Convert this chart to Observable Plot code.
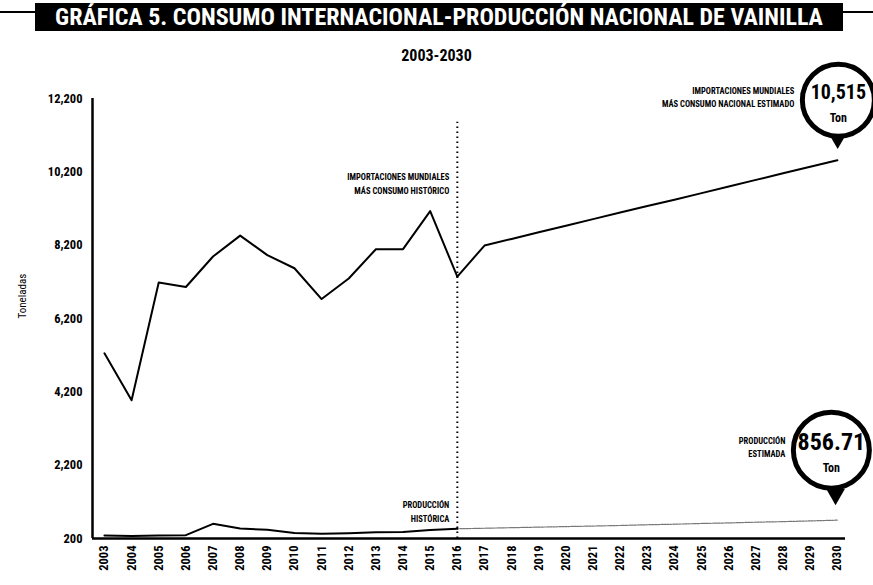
<!DOCTYPE html>
<html><head><meta charset="utf-8">
<script src="https://cdn.jsdelivr.net/npm/d3@7"></script>
<script src="https://cdn.jsdelivr.net/npm/@observablehq/plot@0.6"></script>
<style>
body{margin:0;background:#fff;width:873px;height:585px;overflow:hidden;position:relative;font-family:"Roboto Condensed","Liberation Sans Narrow","DejaVu Sans Condensed","Open Sans",sans-serif;}
#title{position:relative;height:40px;}
#title .rule{position:absolute;top:11px;left:0;width:873px;height:2px;background:#000;}
#title .bar{position:absolute;left:35px;top:3px;width:808px;height:28px;background:#000;color:#fff;font-weight:bold;font-size:24px;line-height:28px;white-space:nowrap;text-align:center;overflow:hidden;}
#sub{position:absolute;top:46px;left:0;width:873px;text-align:center;font-size:16px;font-weight:bold;}
#chart svg{overflow:visible;display:block;}
</style>
</head><body>
<div id="title"><div class="rule"></div><div class="bar">GRÁFICA 5. CONSUMO INTERNACIONAL-PRODUCCIÓN NACIONAL DE VAINILLA</div></div>
<div id="sub">2003-2030</div>
<div id="chart"></div>
<script>
const years = [2003,2004,2005,2006,2007,2008,2009,2010,2011,2012,2013,2014,2015,2016,2017,2018,2019,2020,2021,2022,2023,2024,2025,2026,2027,2028,2029,2030];
const histYears = [2003,2004,2005,2006,2007,2008,2009,2010,2011,2012,2013,2014,2015,2016];
const projYears = [2016,2017,2018,2019,2020,2021,2022,2023,2024,2025,2026,2027,2028,2029,2030];
const consumoHist = [5250,3970,7180,7060,7890,8460,7930,7570,6730,7290,8090,8090,9130,7340];
const consumoProy = [7340,8190,8370,8550,8730,8910,9090,9270,9440,9620,9800,9980,10160,10340,10515];
const produccionHist = [280,270,280,290,600,470,440,350,330,345,370,375,435,465];
const produccionProy = [465,480,495,510,525,540,555,575,590,610,625,645,660,680,700];
const yTicks = [200,2200,4200,6200,8200,10200,12200];
const xDomain = [2002.56, 2030.3];
const yDomain = [200, 12200];
const yLabel = ["Toneladas"];
const dividerYear = [2016];
const dividerTop = 11550;
const histNotes = ["IMPORTACIONES MUNDIALES\nMÁS CONSUMO HISTÓRICO", "PRODUCCIÓN\nHISTÓRICA"];
const histNoteValues = [9900, 960];
const calloutYear = [2030, 2030];
const calloutValue = [10515, 700];
const calloutNumber = ["10,515", "856.71"];
const calloutUnit = ["Ton", "Ton"];
const calloutLabel = ["IMPORTACIONES MUNDIALES\nMÁS CONSUMO NACIONAL ESTIMADO", "PRODUCCIÓN\nESTIMADA"];

const hist = histYears.map((y,i)=>({year:y, consumo:consumoHist[i], prod:produccionHist[i]}));
const proj = projYears.map((y,i)=>({year:y, consumo:consumoProy[i], prod:produccionProy[i]}));
const notes = histNotes.map((t,i)=>({year:dividerYear[0], value:histNoteValues[i], text:t}));
const callouts = calloutYear.map((y,i)=>({year:y, value:calloutValue[i], num:calloutNumber[i], unit:calloutUnit[i], label:calloutLabel[i]}));

const FONT = '"Roboto Condensed","Liberation Sans Narrow","DejaVu Sans Condensed","Open Sans",sans-serif';

function callout(i, dx, dy, r, numSize) {
  const d = [callouts[i]];
  return [
    Plot.dot(d, {x:"year", y:"value", symbol:"triangle2", r:9, rotate:180, fill:"black", dx:dx*0.3, dy:dy*0.37}),
    Plot.dot(d, {x:"year", y:"value", r:r, fill:"white", stroke:"black", strokeWidth:5, dx:dx, dy:dy}),
    Plot.text(d, {x:"year", y:"value", text:"num", dx:dx, dy:dy-8, fontSize:numSize, fontWeight:"bold", fill:"black"}),
    Plot.text(d, {x:"year", y:"value", text:"unit", dx:dx, dy:dy+18, fontSize:12, fontWeight:"bold", fill:"black"}),
    Plot.text(d, {x:"year", y:"value", text:"label", dx:dx-r-8, dy:dy-4, textAnchor:"end", fontSize:8.5, fontWeight:"bold", lineHeight:1.5, fill:"black"})
  ];
}

const chart = Plot.plot({
  width: 873, height: 545,
  marginLeft: 92, marginRight: 28, marginTop: 58, marginBottom: 47,
  style: {fontFamily: FONT, fontSize: "11px", color: "black", background: "white", overflow: "visible"},
  x: {domain: xDomain, label: null},
  y: {domain: yDomain, label: null},
  marks: [
    Plot.axisX({ticks: years, tickFormat: d => String(d), tickRotate: -90, tickSize: 0, tickPadding: 7, fontSize: 12.5, fontWeight: "bold", label: null}),
    Plot.axisY({ticks: yTicks, tickFormat: d3.format(","), tickSize: 0, tickPadding: 10, fontSize: 12.5, fontWeight: "bold", label: null}),
    Plot.text(yLabel, {text: d => d, frameAnchor: "left", rotate: -90, dx: -70, fontSize: 11, fill: "black"}),
    Plot.ruleY([yDomain[0]], {stroke: "black", strokeWidth: 2.5}),
    Plot.ruleX([xDomain[0]], {stroke: "black", strokeWidth: 2.5}),
    Plot.ruleX(dividerYear, {y1: yDomain[0], y2: dividerTop, stroke: "black", strokeWidth: 2, strokeDasharray: "1.5,3.5"}),
    Plot.line(proj, {x: "year", y: "prod", stroke: "#777", strokeWidth: 1.2, strokeDasharray: "2,1"}),
    Plot.line(hist, {x: "year", y: "prod", stroke: "black", strokeWidth: 2}),
    Plot.line(hist, {x: "year", y: "consumo", stroke: "black", strokeWidth: 2}),
    Plot.line(proj, {x: "year", y: "consumo", stroke: "black", strokeWidth: 2}),
    Plot.text(notes, {x: "year", y: "value", text: "text", dx: -8, textAnchor: "end", fontSize: 8.5, fontWeight: "bold", lineHeight: 1.6, fill: "black"}),
    ...callout(0, 1, -60, 36, 20),
    ...callout(1, -6, -70, 38, 24)
  ]
});
document.getElementById("chart").appendChild(chart);
</script>
</body></html>
